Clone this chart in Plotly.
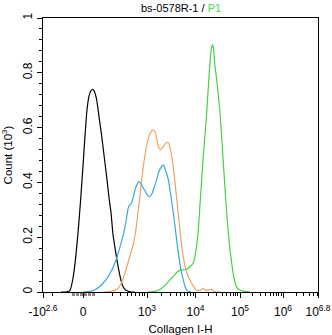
import numpy as np
import plotly.graph_objects as go

# Axis scale: positions are in display channels along a biexponential-style axis.
x_tick_pos = [0, 40, 104, 152.5, 197, 240, 275]
x_tick_text = ["-10<sup>2.6</sup>", "0", "10<sup>3</sup>", "10<sup>4</sup>",
               "10<sup>5</sup>", "10<sup>6</sup>", "10<sup>6.8</sup>"]
decade_pos = {2: 54, 3: 104, 4: 152.5, 5: 197, 6: 240}
x_max = 275

y_tick_vals = [0, 0.2, 0.4, 0.6, 0.8, 1.0]
y_tick_text = ["0", "0.2", "0.4", "0.6", "0.8", "1"]

# Histograms (channel, count in 10^3)
black_x = [18, 24, 27, 30, 32.5, 35, 37.5, 40, 42, 44, 46, 48, 49.5, 51, 53.5, 56, 58.5,
           61, 63.5, 66, 68, 70, 72.5, 75, 77.5, 80, 83, 87, 92]
black_y = [0, 0.001, 0.006, 0.05, 0.12, 0.215, 0.33, 0.46, 0.57, 0.665, 0.715, 0.735, 0.74,
           0.735, 0.705, 0.64, 0.575, 0.5, 0.425, 0.345, 0.29, 0.21, 0.15, 0.095, 0.05,
           0.02, 0.006, 0.001, 0]

orange_x = [60, 68, 74, 78, 82, 86, 90, 93, 96, 99, 102, 105, 108, 110, 112, 114, 116, 118,
            120, 122, 124, 126, 128, 130, 132, 134, 136, 138, 140, 143, 146, 149, 152, 156,
            160, 163, 168, 172, 178]
orange_y = [0, 0.002, 0.01, 0.03, 0.07, 0.12, 0.17, 0.23, 0.32, 0.42, 0.5, 0.555, 0.585,
            0.592, 0.585, 0.555, 0.525, 0.52, 0.528, 0.54, 0.546, 0.54, 0.51, 0.465, 0.4,
            0.33, 0.26, 0.19, 0.135, 0.08, 0.05, 0.03, 0.012, 0.004, 0.012, 0.006, 0.01,
            0.002, 0]

blue_x = [40, 47, 52, 56, 60, 64, 68, 71, 74, 77, 80, 82, 84, 85.5, 87, 88.7, 90.5, 92, 94,
          96, 98, 100, 102, 104, 106.3, 108.5, 111, 113.7, 116, 118, 120.3, 122.5, 125.3,
          127.5, 130.3, 133, 135.3, 137.5, 140.3, 142, 144, 148]
blue_y = [0, 0.002, 0.008, 0.018, 0.032, 0.05, 0.075, 0.098, 0.128, 0.164, 0.205, 0.237,
          0.28, 0.31, 0.318, 0.325, 0.35, 0.373, 0.392, 0.403, 0.395, 0.38, 0.37, 0.355,
          0.348, 0.355, 0.38, 0.41, 0.44, 0.455, 0.464, 0.445, 0.41, 0.36, 0.289, 0.21,
          0.143, 0.09, 0.044, 0.02, 0.005, 0]

green_x = [105, 112, 118, 123, 127, 131, 134, 137, 140, 143.7, 147, 150.3, 152, 153.7, 155.3,
           157, 158.7, 160.3, 162, 163.7, 165, 166.3, 167.8, 169.3, 170.5, 171.8, 173.7,
           175.3, 177, 178.7, 180.3, 182, 183.7, 186, 188.7, 191, 193.7, 197, 200.3, 207]
green_y = [0, 0.002, 0.012, 0.028, 0.044, 0.06, 0.072, 0.08, 0.081, 0.083, 0.092, 0.106,
           0.13, 0.17, 0.227, 0.32, 0.41, 0.494, 0.575, 0.655, 0.73, 0.8, 0.87, 0.903, 0.89,
           0.83, 0.775, 0.72, 0.655, 0.565, 0.472, 0.38, 0.289, 0.19, 0.106, 0.05, 0.018,
           0.007, 0.003, 0]

series = [
    (black_x, black_y, "#000000"),
    (orange_x, orange_y, "#f0a262"),
    (blue_x, blue_y, "#35a9dc"),
    (green_x, green_y, "#46d046"),
]

fig = go.Figure()
for xs, ys, col in series:
    fig.add_trace(go.Scatter(x=xs, y=ys, mode="lines",
                             line=dict(color=col, width=1.2, shape="spline", smoothing=0.6),
                             showlegend=False, hoverinfo="skip"))

# Log minor ticks within each decade
minor_x = [9]
decs = sorted(decade_pos)
for i, d in enumerate(decs):
    start = decade_pos[d]
    width = (decade_pos[decs[i + 1]] - start) if i + 1 < len(decs) else (x_max - start) / 0.8
    for m in range(2, 10):
        p = start + width * np.log10(m)
        if p < x_max:
            minor_x.append(round(float(p), 2))

family = "Liberation Sans, Arial, sans-serif"
font = dict(family=family, size=12, color="#000000")
title_font = dict(family=family, size=11.5, color="#000000")

fig.update_layout(
    width=332, height=335,
    margin=dict(l=43, r=14, t=18, b=43),
    paper_bgcolor="white", plot_bgcolor="white",
    font=font,
    xaxis=dict(range=[0, x_max], tickvals=x_tick_pos, ticktext=x_tick_text,
               showgrid=False, zeroline=False, showline=True, mirror=True,
               linecolor="black", linewidth=1, ticks="outside", ticklen=5,
               tickcolor="black", tickfont=font, ticklabelstandoff=4, automargin=False,
               minor=dict(tickvals=minor_x, ticks="outside", ticklen=3, tickcolor="black"),
               title=dict(text="Collagen I-H", font=title_font, standoff=8)),
    yaxis=dict(range=[0, 1.0], tickvals=y_tick_vals, ticktext=y_tick_text, tickangle=-90,
               showgrid=False, zeroline=False, showline=True, mirror=True,
               linecolor="black", linewidth=1, ticks="outside", ticklen=5,
               tickcolor="black", tickfont=font, automargin=False,
               minor=dict(dtick=0.04, ticks="outside", ticklen=3, tickcolor="black"),
               title=dict(text="Count (10<sup>3</sup>)", font=title_font, standoff=6)),
    annotations=[dict(text="bs-0578R-1 / <span style='color:#4cd64c'>P1</span>",
                      xref="paper", yref="paper", x=0.5, y=1.0, yshift=10,
                      showarrow=False, font=dict(family=family, size=11, color="#000000"),
                      xanchor="center", yanchor="middle")],
    shapes=[dict(type="line", xref="x", yref="paper", x0=29, x1=52, y0=-0.009, y1=-0.009,
                 line=dict(color="#888888", width=3, dash="3px,1px"))],
)

fig.write_html("out.html")
